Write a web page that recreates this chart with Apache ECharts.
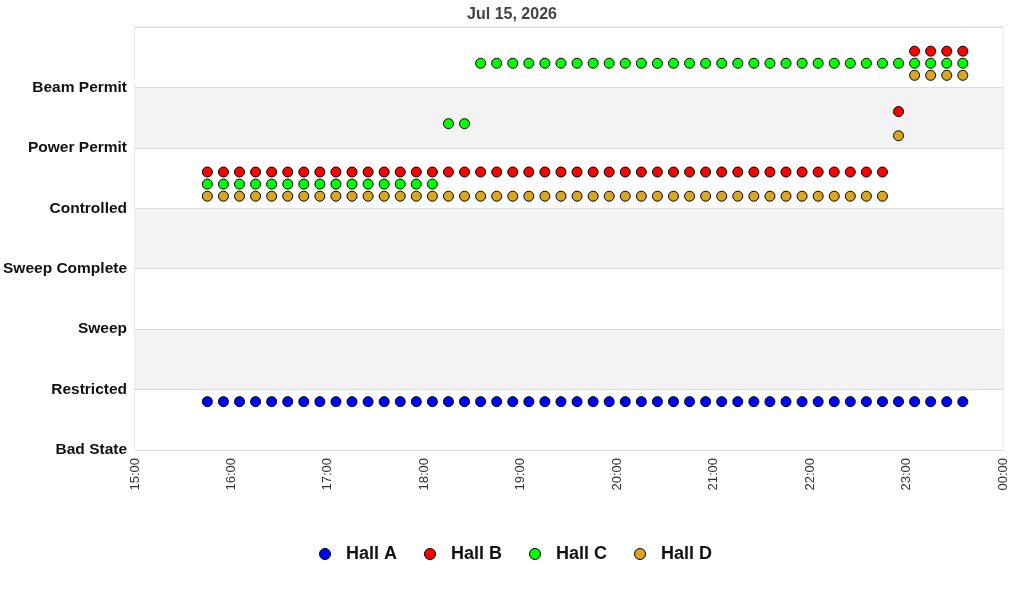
<!DOCTYPE html>
<html>
<head>
<meta charset="utf-8">
<title>Hall states</title>
<script src="https://cdn.jsdelivr.net/npm/echarts@6/dist/echarts.min.js"></script>
<style>
	html, body { margin: 0; padding: 0; background: #fff; }
	#chart { width: 1024px; height: 600px; }
</style>
</head>
<body>
<div id="chart"></div>
<script>
(function() {
	'use strict';

	var chartTitle = "Jul 15, 2026";

	// y axis states, bottom to top
	var stateLabels = [ "Bad State", "Restricted", "Sweep", "Sweep Complete", "Controlled", "Power Permit", "Beam Permit" ];

	var xTickLabels = [ "15:00", "16:00", "17:00", "18:00", "19:00", "20:00", "21:00", "22:00", "23:00", "00:00" ];

	var sampleTimes = [
		"15:45", "15:55", "16:05", "16:15", "16:25", "16:35", "16:45", "16:55",
		"17:05", "17:15", "17:25", "17:35", "17:45", "17:55", "18:05", "18:15",
		"18:25", "18:35", "18:45", "18:55", "19:05", "19:15", "19:25", "19:35",
		"19:45", "19:55", "20:05", "20:15", "20:25", "20:35", "20:45", "20:55",
		"21:05", "21:15", "21:25", "21:35", "21:45", "21:55", "22:05", "22:15",
		"22:25", "22:35", "22:45", "22:55", "23:05", "23:15", "23:25", "23:35"
	];

	// state index per sample (0 = Bad State ... 6 = Beam Permit)
	var hallA = [
		0, 0, 0, 0, 0, 0, 0, 0, 0, 0, 0, 0, 0, 0, 0, 0,
		0, 0, 0, 0, 0, 0, 0, 0, 0, 0, 0, 0, 0, 0, 0, 0,
		0, 0, 0, 0, 0, 0, 0, 0, 0, 0, 0, 0, 0, 0, 0, 0
	];
	var hallB = [
		4, 4, 4, 4, 4, 4, 4, 4, 4, 4, 4, 4, 4, 4, 4, 4,
		4, 4, 4, 4, 4, 4, 4, 4, 4, 4, 4, 4, 4, 4, 4, 4,
		4, 4, 4, 4, 4, 4, 4, 4, 4, 4, 4, 5, 6, 6, 6, 6
	];
	var hallC = [
		4, 4, 4, 4, 4, 4, 4, 4, 4, 4, 4, 4, 4, 4, 4, 5,
		5, 6, 6, 6, 6, 6, 6, 6, 6, 6, 6, 6, 6, 6, 6, 6,
		6, 6, 6, 6, 6, 6, 6, 6, 6, 6, 6, 6, 6, 6, 6, 6
	];
	var hallD = [
		4, 4, 4, 4, 4, 4, 4, 4, 4, 4, 4, 4, 4, 4, 4, 4,
		4, 4, 4, 4, 4, 4, 4, 4, 4, 4, 4, 4, 4, 4, 4, 4,
		4, 4, 4, 4, 4, 4, 4, 4, 4, 4, 4, 5, 6, 6, 6, 6
	];

	var hallNames = [ "Hall A", "Hall B", "Hall C", "Hall D" ];
	var hallColors = [ "#0000ff", "#ff0000", "#00ff00", "#daa520" ];
	// vertical placement of each hall inside its state band
	var hallOffsets = [ 0.8, 0.6, 0.4, 0.2 ];

	var toMinutes = function(hhmm) {
		var p = hhmm.split(":");
		return parseInt(p[0], 10) * 60 + parseInt(p[1], 10);
	};

	var fontFamily = "'Liberation Sans', Arial, sans-serif";

	var makeSeries = function(i, states) {
		var data = [];
		for (var k = 0; k < states.length; k++) {
			if (states[k] === null) continue;
			data.push([ toMinutes(sampleTimes[k]), states[k] + hallOffsets[i] ]);
		}
		return {
			name : hallNames[i],
			type : "scatter",
			symbol : "circle",
			symbolSize : 10,
			itemStyle : { color : hallColors[i], borderColor : "#000", borderWidth : 1, opacity : 1 },
			emphasis : { disabled : true },
			data : data
		};
	};

	var chart = echarts.init(document.getElementById("chart"), null, { renderer : "canvas" });

	chart.setOption({
		animation : false,
		textStyle : { fontFamily : fontFamily },
		title : {
			text : chartTitle,
			left : "center",
			top : 2,
			textStyle : { fontSize : 16, fontWeight : "bold", color : "#444", fontFamily : fontFamily }
		},
		legend : {
			bottom : 32,
			left : 314,
			icon : "circle",
			itemWidth : 32,
			itemHeight : 11,
			itemGap : 27,
			itemStyle : { borderColor : "#000", borderWidth : 1 },
			textStyle : { fontSize : 18, fontWeight : "bold", color : "#111", fontFamily : fontFamily },
			data : hallNames
		},
		grid : {
			left : 135, right : 21, top : 27, bottom : 150,
			show : true, borderColor : "#dcdcdc", borderWidth : 1, backgroundColor : "transparent"
		},
		xAxis : {
			type : "value",
			min : 900, max : 1440, interval : 60,
			axisLine : { show : false },
			axisTick : { show : false },
			splitLine : { show : false },
			axisLabel : {
				rotate : 90,
				margin : 8,
				fontSize : 13,
				color : "#333",
				fontFamily : fontFamily,
				formatter : function(v) { return xTickLabels[Math.round((v - 900) / 60)] || ""; }
			}
		},
		yAxis : {
			type : "value",
			min : 0, max : 7, interval : 1,
			axisLine : { show : false },
			axisTick : { show : false },
			splitLine : { show : true, lineStyle : { color : "#dcdcdc", width : 1 } },
			splitArea : { show : true, areaStyle : { color : [ "#ffffff", "#f3f3f3" ] } },
			axisLabel : {
				margin : 8,
				fontSize : 15.5,
				fontWeight : "bold",
				color : "#111",
				fontFamily : fontFamily,
				formatter : function(v) { return stateLabels[v] || ""; }
			}
		},
		series : [ makeSeries(0, hallA), makeSeries(1, hallB), makeSeries(2, hallC), makeSeries(3, hallD) ]
	});

}());
</script>
</body>
</html>
